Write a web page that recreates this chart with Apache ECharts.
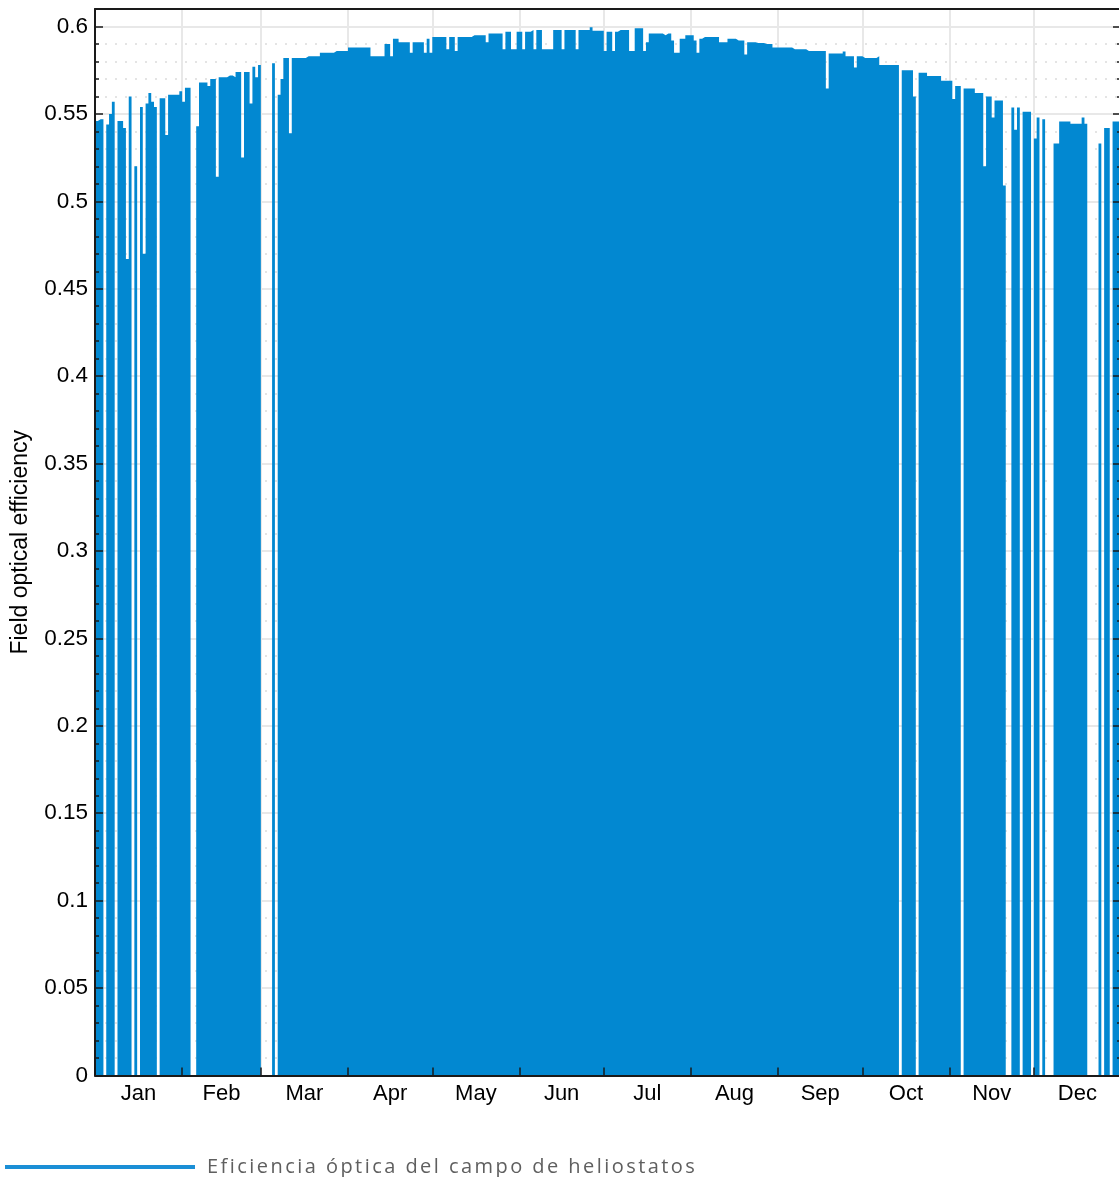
<!DOCTYPE html>
<html>
<head>
<meta charset="utf-8">
<script src="https://cdn.jsdelivr.net/npm/echarts@6/dist/echarts.min.js"></script>
<style>
html,body{margin:0;padding:0;background:#ffffff;}
#chart{width:1119px;height:1177px;}
</style>
</head>
<body>
<div id="chart"></div>
<script>
// ---- data ----
const monthNames = ['Jan','Feb','Mar','Apr','May','Jun','Jul','Aug','Sep','Oct','Nov','Dec'];
const monthStartDays = [0,31,59,90,120,151,181,212,243,273,304,334,365];
const yMajorTicks = [0,0.05,0.1,0.15,0.2,0.25,0.3,0.35,0.4,0.45,0.5,0.55,0.6];
const seriesName = 'Eficiencia óptica del campo de heliostatos';
const yAxisName = 'Field optical efficiency';
// daily field optical efficiency (day 0 = 1 Jan), 0 = no operation
const dailyEfficiency = [
0.546,0.547,0.547,0,0.544,0.550,0.557,0,0.546,0.546,
0.542,0.467,0.560,0,0.520,0,0.554,0.470,0.556,0.562,
0.557,0.554,0,0.559,0.559,0.538,0.561,0.561,0.561,0.561,
0.563,0.557,0.565,0.565,0,0,0.543,0.568,0.568,0.568,
0.566,0.570,0.570,0.514,0.571,0.571,0.571,0.572,0.572,0.571,
0.574,0.574,0.525,0.574,0.574,0.556,0.577,0.571,0.578,0,
0,0,0,0.579,0,0.561,0.570,0.582,0.582,0.539,
0.582,0.582,0.582,0.582,0.582,0.583,0.583,0.583,0.583,0.583,
0.585,0.585,0.585,0.585,0.585,0.586,0.586,0.586,0.586,0.586,
0.588,0.588,0.588,0.588,0.588,0.588,0.588,0.588,0.583,0.583,
0.583,0.583,0.583,0.590,0.590,0.583,0.593,0.593,0.591,0.591,
0.591,0.591,0.585,0.591,0.591,0.591,0.591,0.585,0.593,0.585,
0.594,0.594,0.594,0.594,0.594,0.587,0.594,0.594,0.586,0.594,
0.594,0.594,0.594,0.594,0.595,0.595,0.595,0.595,0.595,0.591,
0.596,0.596,0.596,0.596,0.596,0.587,0.597,0.597,0.587,0.587,
0.597,0.597,0.587,0.597,0.597,0.598,0.587,0.598,0.598,0.587,
0.587,0.587,0.587,0.598,0.598,0.598,0.587,0.598,0.598,0.598,
0.598,0.587,0.598,0.598,0.598,0.598,0.5995,0.5975,0.5975,0.5975,
0.5975,0.586,0.597,0.597,0.586,0.597,0.598,0.598,0.598,0.598,
0.586,0.586,0.599,0.599,0.599,0.586,0.591,0.596,0.596,0.596,
0.596,0.596,0.595,0.596,0.596,0.592,0.585,0.585,0.593,0.593,
0.595,0.595,0.595,0.592,0.585,0.593,0.594,0.594,0.594,0.594,
0.594,0.594,0.591,0.591,0.591,0.593,0.593,0.593,0.592,0.592,
0.592,0.584,0.591,0.591,0.591,0.5905,0.5905,0.5905,0.590,0.590,
0.590,0.588,0.588,0.588,0.588,0.588,0.588,0.588,0.587,0.587,
0.587,0.587,0.587,0.586,0.586,0.586,0.586,0.586,0.586,0.586,
0.5645,0.5845,0.5845,0.5845,0.5845,0.5845,0.5857,0.583,0.583,0.583,
0.5766,0.583,0.583,0.582,0.582,0.582,0.582,0.582,0.583,0.578,
0.578,0.578,0.578,0.578,0.578,0.578,0,0.575,0.575,0.575,
0.575,0.560,0,0.5735,0.5735,0.5735,0.5717,0.5717,0.5717,0.5717,
0.5717,0.569,0.569,0.569,0.569,0.5585,0.566,0.566,0,0.5645,
0.5645,0.5645,0.5645,0.562,0.562,0.562,0.520,0.560,0.560,0.548,
0.5576,0.5576,0.5576,0.509,0,0,0.5536,0.541,0.5536,0,
0.5513,0.5513,0.5513,0,0.536,0.548,0,0.547,0,0,
0,0.533,0.533,0.5456,0.5456,0.5456,0.5456,0.5444,0.5444,0.5444,
0.5444,0.548,0.5444,0,0,0,0,0.533,0,0.542,
0.542,0,0.5456,0.5456,0.5456
];

// ---- derived ----
const stepData = dailyEfficiency.map((v, d) => [d, v]);
stepData.push([dailyEfficiency.length, dailyEfficiency[dailyEfficiency.length - 1]]);
const monthMidDays = monthNames.map((m, i) => (monthStartDays[i] + monthStartDays[i + 1]) / 2);
const yMinorTicks = [];
for (let i = 1; i <= 60; i++) { if (i % 5 !== 0) yMinorTicks.push(i / 100); }

const X_MIN = 0, X_MAX = 365, Y_MIN = 0, Y_MAX = 0.61;
const AX = '#1a1a1a';
const FONT = "'Liberation Sans', Arial, Helvetica, sans-serif";

function baseX(extra) {
  return Object.assign({
    type: 'value', min: X_MIN, max: X_MAX,
    axisLine: { show: false }, axisTick: { show: false }, axisLabel: { show: false },
    splitLine: { show: false }
  }, extra);
}
function baseY(extra) {
  return Object.assign({
    type: 'value', min: Y_MIN, max: Y_MAX,
    axisLine: { show: false }, axisTick: { show: false }, axisLabel: { show: false },
    splitLine: { show: false }
  }, extra);
}

const chart = echarts.init(document.getElementById('chart'), null, { renderer: 'canvas' });
// legend lives on its own canvas layer so its text can be letter-spaced like the original
try {
  const layer = chart.getZr().painter.getLayer(1);
  if (layer && layer.ctx) { layer.ctx.letterSpacing = '2.45px'; }
} catch (e) {}

chart.setOption({
  animation: false,
  backgroundColor: '#ffffff',
  grid: { left: 95, right: -2, top: 9, bottom: 101.5, outerBoundsMode: 'none', containLabel: false },
  legend: {
    zlevel: 1,
    left: 0, top: 1152,
    icon: 'rect', itemWidth: 190, itemHeight: 4,
    data: [{ name: seriesName, itemStyle: { color: '#1b8fd6' } }],
    textStyle: { fontFamily: "'Open Sans', sans-serif", fontSize: 20, color: '#5f5f5f', padding: [0, 0, 0, 7] }
  },
  xAxis: [
    baseX({ position: 'bottom', z: 0,
      axisTick: { show: false, customValues: monthStartDays },
      splitLine: { show: true, lineStyle: { color: '#e8e8e8', width: 2 } } }),
    baseX({ position: 'bottom', z: 5,
      axisLine: { show: true, onZero: false, lineStyle: { color: AX, width: 2 } },
      axisTick: { show: true, inside: true, length: 8, customValues: monthStartDays, lineStyle: { color: AX, width: 1.5 } },
      axisLabel: { show: true, customValues: monthMidDays, margin: 7, color: '#000', fontFamily: FONT, fontSize: 22,
        formatter: (v) => { const i = monthMidDays.findIndex(m => Math.abs(m - v) < 0.01); return i >= 0 ? monthNames[i] : ''; } } }),
    baseX({ position: 'top', z: 5,
      axisLine: { show: true, onZero: false, lineStyle: { color: AX, width: 2 } } })
  ],
  yAxis: [
    baseY({ position: 'left', z: 0,
      axisTick: { show: false, customValues: yMajorTicks },
      splitLine: { show: true, lineStyle: { color: '#e8e8e8', width: 2 } } }),
    baseY({ position: 'left', z: 0,
      axisTick: { show: false, customValues: yMinorTicks },
      splitLine: { show: true, lineStyle: { color: '#dcdcdc', width: 1.5, type: [2, 8] } } }),
    baseY({ position: 'left', z: 5, name: yAxisName, nameLocation: 'middle', nameGap: 63,
      nameTextStyle: { fontFamily: FONT, fontSize: 23, color: '#000' },
      axisLine: { show: true, onZero: false, lineStyle: { color: AX, width: 2 } },
      axisTick: { show: true, inside: true, length: 8, customValues: yMajorTicks, lineStyle: { color: AX, width: 1.5 } },
      axisLabel: { show: true, customValues: yMajorTicks, margin: 7, color: '#000', fontFamily: FONT, fontSize: 22.5,
        formatter: (v) => String(+v.toFixed(2)) } }),
    baseY({ position: 'left', z: 5,
      axisTick: { show: true, inside: true, length: 4, customValues: yMinorTicks, lineStyle: { color: AX, width: 1.5 } } }),
    baseY({ position: 'right', z: 5,
      axisLine: { show: true, onZero: false, lineStyle: { color: AX, width: 2 } },
      axisTick: { show: true, inside: true, length: 8, customValues: yMajorTicks, lineStyle: { color: AX, width: 1.5 } } }),
    baseY({ position: 'right', z: 5,
      axisTick: { show: true, inside: true, length: 4, customValues: yMinorTicks, lineStyle: { color: AX, width: 1.5 } } })
  ],
  series: [{
    name: seriesName,
    type: 'line',
    xAxisIndex: 1, yAxisIndex: 2,
    step: 'end',
    data: stepData,
    symbol: 'none',
    showSymbol: false,
    z: 2,
    color: '#0288d1',
    lineStyle: { width: 0, color: '#0288d1' },
    areaStyle: { color: '#0288d1', opacity: 1 }
  }]
});
</script>
</body>
</html>
